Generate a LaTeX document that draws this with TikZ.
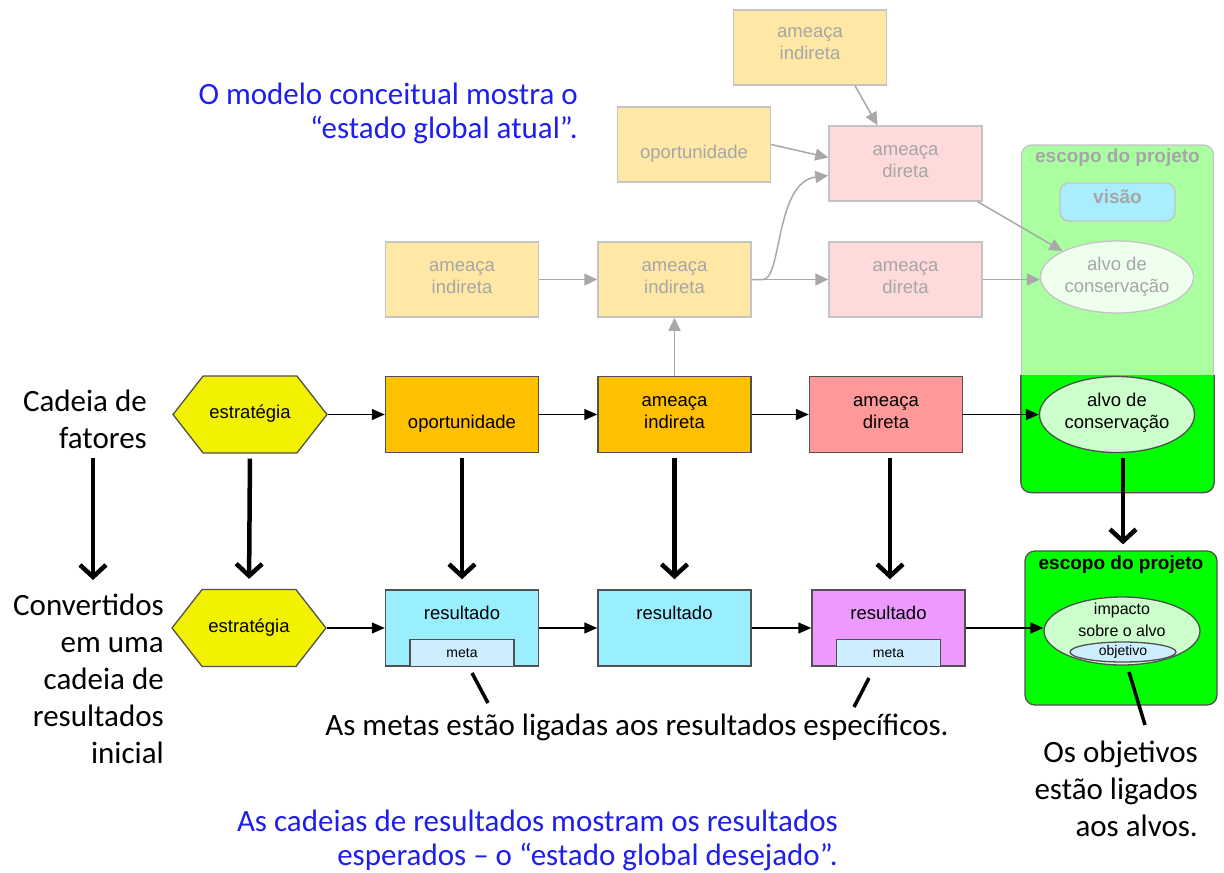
\documentclass[tikz,border=0pt]{standalone}
\usepackage{fontspec}
\setmainfont{Carlito}
\newfontfamily\arial{Liberation Sans}
\usetikzlibrary{arrows.meta,shapes.geometric,shapes.symbols}
\newcommand\liftt[2]{\smash{\raisebox{#1}{#2}}}
\newcommand\twol[2]{\begin{tabular}[b]{@{}c@{}}#1\\#2\end{tabular}}
\definecolor{fadeY}{HTML}{FFE8A6}
\definecolor{fadeP}{HTML}{FFDADA}
\definecolor{fadeB}{HTML}{C4C4C4}
\definecolor{fadeT}{HTML}{A6A6A6}
\definecolor{fadeA}{HTML}{A8A8A8}
\definecolor{fadeG}{HTML}{AAFFA0}
\definecolor{fadeV}{HTML}{A8EEFF}
\definecolor{fadeE}{HTML}{EEFFEE}
\definecolor{hexY}{HTML}{F2F200}
\definecolor{orangeC}{HTML}{FFC000}
\definecolor{salmonC}{HTML}{FF9999}
\definecolor{greenC}{HTML}{00FF00}
\definecolor{ellG}{HTML}{CCFFCC}
\definecolor{cyanC}{HTML}{99EEFF}
\definecolor{violetC}{HTML}{EE99FF}
\definecolor{metaC}{HTML}{CCEEFF}
\definecolor{mainB}{HTML}{505050}
\definecolor{blueT}{HTML}{1E1EF0}
\tikzset{
  base/.style={font=\arial\fontsize{18.5}{22}\selectfont, align=center, inner sep=0pt},
  fadebox/.style={base, rectangle, draw=fadeB, line width=1.5pt, text=fadeT, minimum width=153pt, minimum height=75pt},
  mainbox/.style={base, rectangle, draw=mainB, line width=1.5pt, minimum width=153pt, minimum height=76pt},
  hexa/.style={base, signal, signal to=east and west, signal pointer angle=104, draw=mainB, fill=hexY, minimum width=154pt, minimum height=77pt, line width=1.3pt},
  metabox/.style={base, font=\arial\fontsize{14}{16}\selectfont, rectangle, draw=mainB, fill=metaC, line width=1.3pt, minimum width=104pt, minimum height=27pt},
  ell/.style={base, ellipse, draw=mainB, fill=ellG, line width=1.3pt},
  farrow/.style={draw=fadeA, line width=1.5pt, -{Triangle[length=13pt,width=12pt]}},
  marrow/.style={draw=black, line width=1.5pt, -{Triangle[length=13pt,width=11pt]}},
  bigarrow/.style={draw=black, line width=4.5pt, -{Straight Barb[length=12pt,width=26pt]}, shorten <=5pt, shorten >=10pt},
  pointer/.style={draw=black, line width=3.5pt},
  calib/.style={inner sep=0pt, font=\fontsize{31}{37}\selectfont},
  bluet/.style={inner sep=0pt, font=\fontsize{31}{34.5}\selectfont, text=blueT, align=right},
  ttl/.style={inner sep=0pt, font=\arial\bfseries\fontsize{19}{22}\selectfont}
}
\begin{document}
\begin{tikzpicture}[x=1pt,y=-1pt]
\useasboundingbox (0,0) rectangle (1224,873);

% ---------- faded project scope container ----------
\node[draw=fadeB, fill=fadeG, line width=1.3pt, rounded corners=10pt, minimum width=192pt, minimum height=347pt, inner sep=0pt] (fscope) at (1117.5,318.5) {};
\begin{scope}
  \clip (1000,375) rectangle (1230,500);
  \path[draw=mainB, fill=greenC, line width=1.3pt, rounded corners=10pt] (fscope.north west) rectangle (fscope.south east);
\end{scope}
\node[ttl, text=fadeT] (fscopeT) at (1117.5,158) {escopo do projeto};
\node[ttl, text=fadeT, draw=fadeB, fill=fadeV, line width=1.3pt, rounded corners=9pt, minimum width=115pt, minimum height=38pt] (visao) at (1117.5,202) {\liftt{-1pt}{visão}};
\node[base, ellipse, draw=fadeB, fill=fadeE, line width=1.3pt, text=fadeT, minimum width=153pt, minimum height=72pt] (alvoF) at (1117,277) {\liftt{-15pt}{\twol{alvo de}{conservação}}};

% ---------- faded boxes ----------
\node[fadebox, fill=fadeY] (iT) at (810,47.5) {\liftt{-12pt}{\twol{ameaça}{indireta}}};
\node[fadebox, fill=fadeY] (opF) at (694,144.5) {\liftt{-14pt}{oportunidade}};
\node[fadebox, fill=fadeP] (dA) at (905.5,163.5) {\liftt{-14pt}{\twol{ameaça}{direta}}};
\node[fadebox, fill=fadeY] (iL) at (462,279.5) {\liftt{-14pt}{\twol{ameaça}{indireta}}};
\node[fadebox, fill=fadeY] (iM) at (674.5,279.5) {\liftt{-14pt}{\twol{ameaça}{indireta}}};
\node[fadebox, fill=fadeP] (dB) at (905.5,279.5) {\liftt{-14pt}{\twol{ameaça}{direta}}};

% ---------- faded arrows ----------
\draw[farrow] ([xshift=45pt]iT.south) -- ([xshift=-28pt]dA.north);
\draw[farrow] (opF.east) -- ([yshift=6pt]dA.west);
\draw[farrow] (iM.east) -- (763,279.5) .. controls (782,279.5) and (775,182) .. ([yshift=-12pt]dA.west);
\draw[farrow] (iL.east) -- (iM.west);
\draw[farrow] (iM.east) -- (dB.west);
\draw[farrow] (dB.east) -- (alvoF.west |- dB.east);
\draw[farrow] ([xshift=-5pt]dA.south east) -- (alvoF.north west);

% ---------- main chain ----------
\node[hexa] (hex1) at (250,414.5) {\liftt{-4pt}{estratégia}};
\node[mainbox, fill=orangeC] (op) at (462,414.5) {\liftt{-14pt}{oportunidade}};
\node[mainbox, fill=orangeC] (ind) at (674.5,414.5) {\liftt{-14pt}{\twol{ameaça}{indireta}}};
\node[mainbox, fill=salmonC] (dir) at (886,414.5) {\liftt{-14pt}{\twol{ameaça}{direta}}};
\node[ell, minimum width=155pt, minimum height=76pt] (alvo) at (1117,414.5) {\liftt{-13.5pt}{\twol{alvo de}{conservação}}};

\draw[marrow] (hex1.east) -- (op.west);
\draw[marrow] (op.east) -- (ind.west);
\draw[marrow] (ind.east) -- (dir.west);
\draw[marrow] (dir.east) -- (alvo.west);
\draw[farrow] (ind.north) -- (iM.south);

% ---------- results chain ----------
\node[draw=mainB, fill=greenC, line width=1.3pt, rounded corners=10pt, minimum width=192pt, minimum height=154pt, inner sep=0pt] (scope2) at (1121,628) {};
\node[ttl] (scope2T) at (1121,565) {escopo do projeto};

\node[hexa] (hex2) at (249,628) {\liftt{-4.5pt}{estratégia}};
\node[mainbox, fill=cyanC] (r1) at (462,628) {\liftt{8.5pt}{resultado}};
\node[mainbox, fill=cyanC] (r2) at (674.5,628) {\liftt{8.5pt}{resultado}};
\node[mainbox, fill=violetC] (r3) at (888.5,628) {\liftt{8.5pt}{resultado}};
\node[metabox] (m1) at (462,653) {meta};
\node[metabox] (m3) at (888.5,653) {meta};
\node[ell, minimum width=156pt, minimum height=68pt] (imp) at (1122,631) {};
\node[base, font=\arial\fontsize{16}{22}\selectfont] (impT) at (1122,620) {impacto\\sobre o alvo};
\node[ell, fill=metaC, font=\arial\fontsize{14}{16}\selectfont, minimum width=106pt, minimum height=20pt] (obj) at (1123,652) {objetivo};

\draw[marrow] (hex2.east) -- (r1.west);
\draw[marrow] (r1.east) -- (r2.west);
\draw[marrow] (r2.east) -- (r3.west);
\draw[marrow] (r3.east) -- (r3.east -| imp.west);

% ---------- thick conversion arrows ----------
\coordinate (la) at (93,458);
\coordinate (lb) at (93,580);
\draw[bigarrow, shorten <=0pt, shorten >=0pt] (la) -- (lb);
\draw[bigarrow] (hex1.south) -- (hex2.north);
\draw[bigarrow] (op.south) -- (r1.north);
\draw[bigarrow] (ind.south) -- (r2.north);
\draw[bigarrow] ([xshift=4pt]dir.south) -- ([xshift=1.5pt]r3.north);
\draw[bigarrow, shorten >=6pt] ([xshift=6pt]alvo.south) -- ([xshift=2pt]scope2.north);

% ---------- texts ----------
\node[bluet, anchor=east] (txtTop) at (578,113.5) {O modelo conceitual mostra o\\“estado global atual”.};
\node[calib, anchor=east, align=right] (txtCad) at (147,419) {Cadeia de\\fatores};
\node[calib, anchor=east, align=right] (txtConv) at (164,678.5) {Convertidos\\em uma\\cadeia de\\resultados\\inicial};
\node[calib] (txtMetas) at (637,727) {As metas estão ligadas aos resultados específicos.};
\node[calib, anchor=east, align=right] (txtObj) at (1198,789) {Os objetivos\\estão ligados\\aos alvos.};
\node[bluet, anchor=east] (txtBot) at (838,840.5) {As cadeias de resultados mostram os resultados\\esperados – o “estado global desejado”.};

% ---------- pointer lines ----------
\coordinate (p1a) at (472,673);
\coordinate (p1b) at (488,703);
\coordinate (p2a) at (869,678);
\coordinate (p2b) at (854,707);
\coordinate (p3a) at (1129,672);
\coordinate (p3b) at (1145,725);
\draw[pointer] (p1a) -- (p1b);
\draw[pointer] (p2a) -- (p2b);
\draw[pointer] (p3a) -- (p3b);
\end{tikzpicture}
\end{document}
